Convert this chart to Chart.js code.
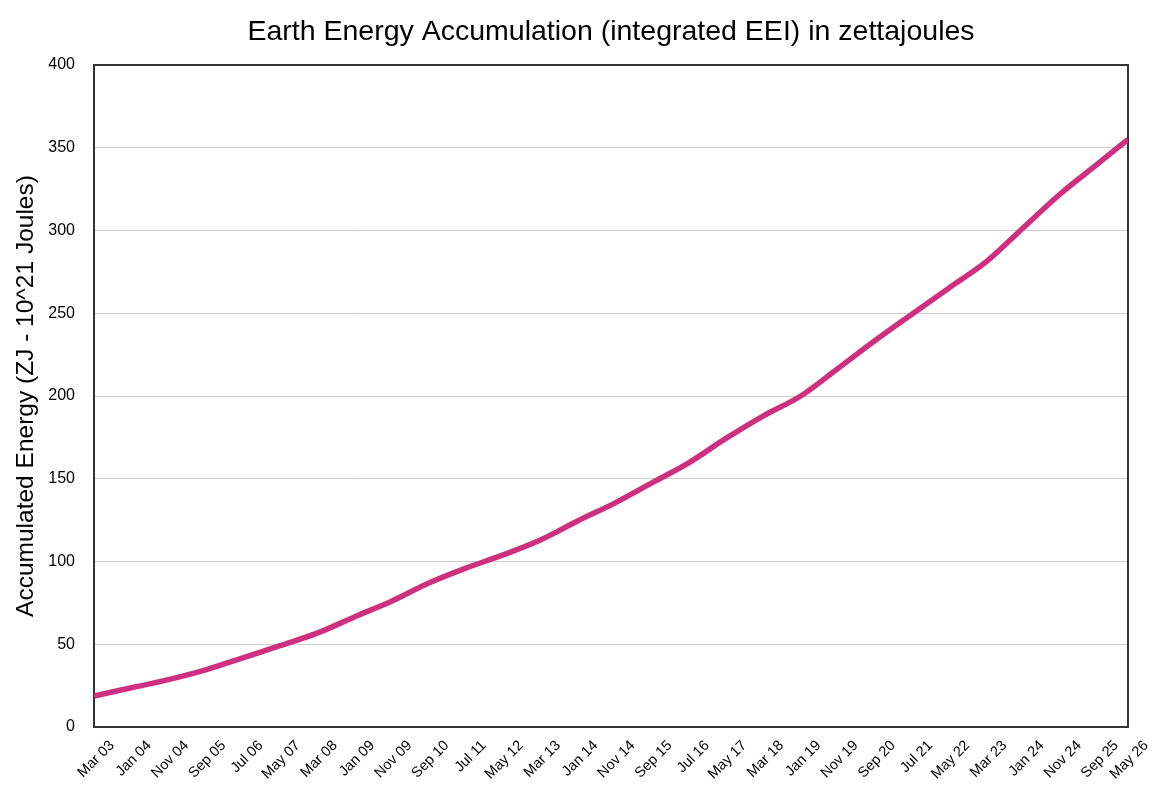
<!DOCTYPE html>
<html>
<head>
<meta charset="utf-8">
<script src="https://cdn.jsdelivr.net/npm/chart.js@4/dist/chart.umd.min.js"></script>
<style>
  html, body { margin: 0; padding: 0; background: #fff; }
  #wrap { width: 1152px; height: 790px; position: relative; }
</style>
</head>
<body>
<div id="wrap"><canvas id="eeiChart"></canvas></div>
<script>
// sampled at each labelled month (every 10 months, plus the last month)
const tickLabels = ['Mar 03','Jan 04','Nov 04','Sep 05','Jul 06','May 07','Mar 08','Jan 09','Nov 09','Sep 10',
  'Jul 11','May 12','Mar 13','Jan 14','Nov 14','Sep 15','Jul 16','May 17','Mar 18','Jan 19',
  'Nov 19','Sep 20','Jul 21','May 22','Mar 23','Jan 24','Nov 24','Sep 25','May 26'];
const energyZJ = [18.7, 23.7, 28.6, 34.5, 41.8, 49.1, 56.7, 66.5, 76, 87,
  96, 104, 113, 124.5, 135.3, 147.5, 159.8, 174.5, 188, 200,
  216.6, 233.5, 249.6, 265.5, 281.3, 302, 322.5, 340.5, 355];
const yTicks = { min: 0, max: 400, step: 50 };

const monthNames = ['Jan','Feb','Mar','Apr','May','Jun','Jul','Aug','Sep','Oct','Nov','Dec'];
// months elapsed since Mar 2003
function monthOffset(label) {
  const [mon, yy] = label.split(' ');
  return (Number(yy) - 3) * 12 + monthNames.indexOf(mon) - 2;
}

const plotFrame = {
  id: 'plotFrame',
  beforeDatasetsDraw(chart) {
    const { ctx, chartArea: a } = chart;
    ctx.save();
    ctx.strokeStyle = '#333333';
    ctx.lineWidth = 2;
    ctx.strokeRect(a.left, a.top, a.right - a.left, a.bottom - a.top);
    ctx.restore();
  }
};

const font = "'Liberation Sans', Arial, Helvetica, sans-serif";

new Chart(document.getElementById('eeiChart'), {
  type: 'line',
  data: {
    datasets: [{
      label: 'Accumulated Energy',
      data: tickLabels.map((label, i) => ({ x: monthOffset(label), y: energyZJ[i] })),
      borderColor: '#cf2f7f',
      borderWidth: 5.5,
      pointRadius: 0,
      cubicInterpolationMode: 'monotone',
      fill: false
    }]
  },
  options: {
    responsive: true,
    maintainAspectRatio: false,
    animation: false,
    layout: { padding: { left: 0, right: 24, top: 0, bottom: 0 } },
    plugins: {
      legend: { display: false },
      tooltip: { enabled: false },
      title: {
        display: true,
        text: 'Earth Energy Accumulation (integrated EEI) in zettajoules',
        fullSize: false,
        color: '#000',
        font: { family: font, size: 28.5, weight: 'normal', lineHeight: 1.2 },
        padding: { top: 15, bottom: 15.8 }
      }
    },
    scales: {
      x: {
        type: 'linear',
        min: monthOffset(tickLabels[0]),
        max: monthOffset(tickLabels[tickLabels.length - 1]),
        afterBuildTicks(scale) {
          scale.ticks = tickLabels.map((label) => ({ value: monthOffset(label) }));
        },
        afterFit(scale) { scale.height = 63; },
        ticks: {
          autoSkip: false,
          maxRotation: 45,
          minRotation: 45,
          padding: 10,
          labelOffset: 18,
          color: '#000',
          font: { family: font, size: 14.5 },
          callback: (value, index) => tickLabels[index]
        },
        grid: { display: false, drawTicks: false },
        border: { display: false }
      },
      y: {
        min: yTicks.min,
        max: yTicks.max,
        afterFit(scale) { scale.width = 94; },
        ticks: {
          stepSize: yTicks.step,
          padding: 19,
          color: '#000',
          font: { family: font, size: 16 }
        },
        title: {
          display: true,
          text: 'Accumulated Energy (ZJ - 10^21 Joules)',
          color: '#000',
          font: { family: font, size: 24.5 },
          padding: { top: 12, bottom: 0 }
        },
        grid: { color: '#cccccc', lineWidth: 1, drawTicks: false },
        border: { display: false }
      }
    }
  },
  plugins: [plotFrame]
});
</script>
</body>
</html>
